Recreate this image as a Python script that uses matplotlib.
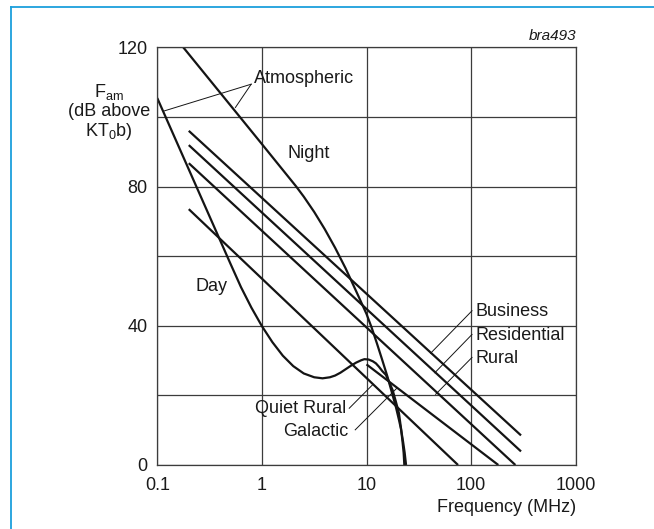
import matplotlib
matplotlib.use("Agg")
import matplotlib.pyplot as plt
from matplotlib.lines import Line2D

plt.rcParams["font.family"] = ["Liberation Sans", "DejaVu Sans"]
plt.rcParams["mathtext.fontset"] = "custom"
plt.rcParams["mathtext.rm"] = "Liberation Sans"
plt.rcParams["mathtext.it"] = "Liberation Sans:italic"

# ---- data: noise figure Fam (dB above kT0b) versus frequency (MHz) ----
x_ticks = [0.1, 1, 10, 100, 1000]
x_tick_labels = ["0.1", "1", "10", "100", "1000"]
y_ticks = [0, 40, 80, 120]
y_minor = [20, 60, 100]

business_f = [0.2, 300]
business_db = [96.0, 8.5]
residential_f = [0.2, 300]
residential_db = [91.9, 3.9]
rural_f = [0.2, 265]
rural_db = [86.7, 0.0]
quiet_rural_f = [0.2, 75]
quiet_rural_db = [73.5, 0.0]
galactic_f = [10, 182]
galactic_db = [28.9, 0.0]

# atmospheric noise, night
night_f = [0.177, 0.55, 1.0, 2.128, 2.512, 3.162, 3.981, 5.012, 6.31, 7.943,
           10.0, 11.22, 12.59, 14.13, 15.85, 17.38, 19.05, 20.42, 21.38,
           22.39, 23.17, 23.88]
night_db = [120.0, 101.8, 92.2, 80.0, 77.1, 72.7, 67.8, 62.4, 56.5, 50.0,
            43.4, 39.4, 34.9, 30.2, 25.4, 21.1, 16.8, 13.0, 10.3,
            6.6, 3.5, 0.0]

# atmospheric noise, day
day_f = [0.1, 0.1995, 0.398, 0.501, 0.631, 0.794, 1.0, 1.259, 1.585, 1.995,
         2.512, 3.162, 3.80, 4.467, 5.012, 5.623, 6.31, 7.079, 7.943, 8.913,
         9.55, 10.47, 11.48, 12.3, 13.18, 14.13, 15.31, 16.6, 17.78, 19.05,
         20.42, 21.38, 22.13, 22.65, 23.0]
day_db = [105.4, 85.0, 64.6, 57.8, 51.1, 45.2, 39.9, 35.3, 31.4, 28.4,
          26.3, 25.2, 24.9, 25.2, 25.7, 26.5, 27.5, 28.5, 29.4, 30.1,
          30.4, 30.3, 29.8, 29.2, 28.2, 27.0, 25.9, 23.6, 21.5, 18.3,
          14.9, 10.5, 6.5, 3.5, 0.0]

ink = "#141414"
grid_c = "#3c3c3c"

fig = plt.figure(figsize=(6.54, 5.29), dpi=100)
ax = fig.add_axes([0.2405, 0.1210, 0.6398, 0.7896])

ax.set_xscale("log")
ax.set_xlim(0.1, 1000)
ax.set_ylim(0, 120)
ax.set_xticks(x_ticks)
ax.set_xticklabels(x_tick_labels)
ax.xaxis.set_minor_locator(matplotlib.ticker.NullLocator())
ax.set_yticks(y_ticks)
ax.set_yticks(y_minor, minor=True)
ax.tick_params(which="both", length=0, labelsize=13, colors="#1a1a1a")
ax.tick_params(axis="x", pad=9)
ax.tick_params(axis="y", pad=7)
ax.grid(True, which="both", color=grid_c, lw=0.9)
for sp in ax.spines.values():
    sp.set_color(grid_c)
    sp.set_linewidth(0.9)
ax.set_axisbelow(True)

curve_kw = dict(color=ink, lw=1.6, solid_capstyle="butt", solid_joinstyle="round")
for f, db in [(business_f, business_db), (residential_f, residential_db),
              (rural_f, rural_db), (quiet_rural_f, quiet_rural_db),
              (galactic_f, galactic_db), (night_f, night_db), (day_f, day_db)]:
    ax.plot(f, db, **curve_kw)

# leader lines for the curve names
lead_kw = dict(color=ink, lw=0.7)
leaders = [
    ((0.79, 109.4), (0.116, 101.7)),
    ((0.79, 109.4), (0.558, 102.7)),
    ((102, 44.3), (41, 32.1)),
    ((102, 37.5), (45, 26.5)),
    ((102, 30.9), (45.8, 20.3)),
    ((6.84, 16.3), (11.4, 23.0)),
    ((7.8, 10.1), (19.7, 22.2)),
]
for (x0, y0), (x1, y1) in leaders:
    ax.plot([x0, x1], [y0, y1], **lead_kw)

tk = dict(fontsize=13, color="#1a1a1a", va="center")
ax.text(0.84, 110.9, "Atmospheric", ha="left", **tk)
ax.text(2.8, 89.6, "Night", ha="center", **tk)
ax.text(0.33, 51.2, "Day", ha="center", **tk)
ax.text(110, 44.0, "Business", ha="left", **tk)
ax.text(110, 37.3, "Residential", ha="left", **tk)
ax.text(110, 30.5, "Rural", ha="left", **tk)
ax.text(6.4, 16.3, "Quiet Rural", ha="right", **tk)
ax.text(6.7, 9.6, "Galactic", ha="right", **tk)

# y-axis caption
W, H = 654.0, 529.0
fig.text(109 / W, 1 - 96.5 / H, r"F$_\mathregular{am}$", ha="center", va="baseline",
         fontsize=13, color="#1a1a1a")
fig.text(109 / W, 1 - 116 / H, "(dB above", ha="center", va="baseline",
         fontsize=13, color="#1a1a1a")
fig.text(109 / W, 1 - 136.5 / H, r"KT$_\mathregular{0}$b)", ha="center", va="baseline",
         fontsize=13, color="#1a1a1a")

fig.text(576 / W, 1 - 512 / H, "Frequency (MHz)", ha="right", va="baseline",
         fontsize=13, color="#1a1a1a")
fig.text(576 / W, 1 - 40 / H, "bra493", ha="right", va="baseline",
         fontsize=11, style="italic", color="#1a1a1a")

# frame edge along the top and left of the figure
blue = "#1b9fdc"
fig.add_artist(Line2D([10.5 / W, 10.5 / W], [0, 1 - 6.5 / H], color=blue, lw=1.3,
                      transform=fig.transFigure))
fig.add_artist(Line2D([10.5 / W, 1], [1 - 6.5 / H, 1 - 6.5 / H], color=blue, lw=1.3,
                      transform=fig.transFigure))

fig.savefig("out.png", dpi=100)
